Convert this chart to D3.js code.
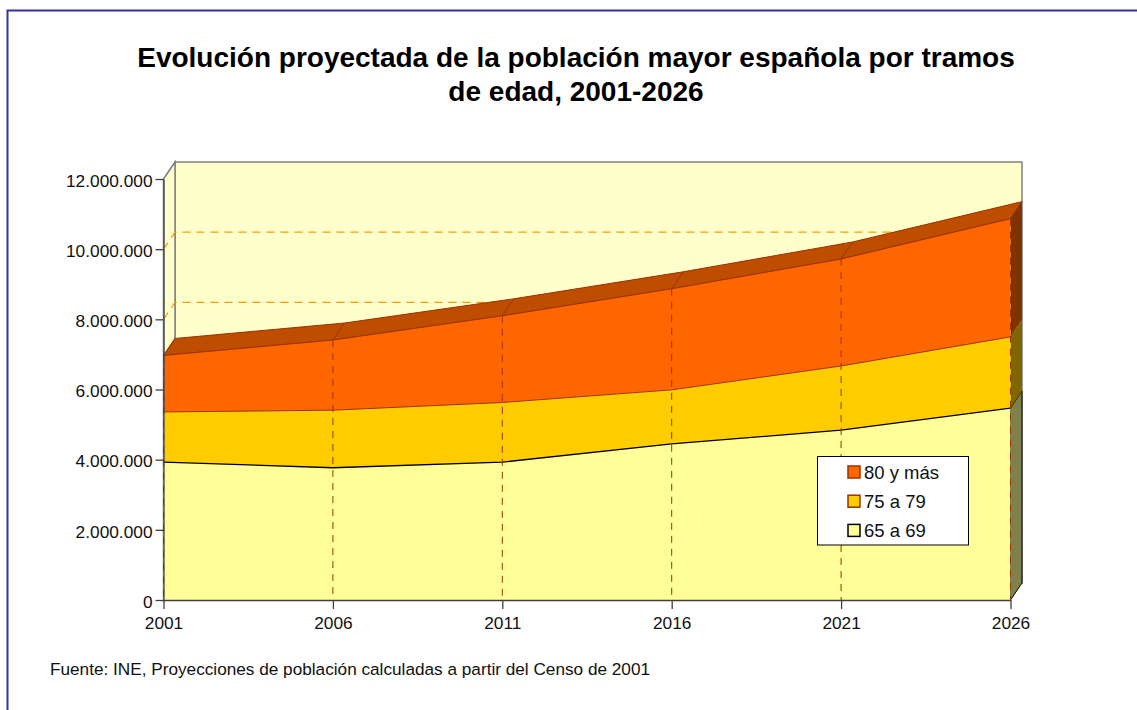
<!DOCTYPE html>
<html lang="es">
<head>
<meta charset="utf-8">
<title>Evolución proyectada de la población mayor española</title>
<script src="https://cdn.jsdelivr.net/npm/d3@7/dist/d3.min.js"></script>
<style>
    html, body { margin: 0; padding: 0; background: #fff; overflow: hidden; }
    text { font-family: "Liberation Sans", Arial, sans-serif; fill: #111; }
</style>
</head>
<body>
<div class="canvas"></div>
<script>
// DATA
const years = [2001, 2006, 2011, 2016, 2021, 2026];
const s65a69 = [3930000, 3770000, 3930000, 4450000, 4840000, 5470000];
const s75a79 = [1430000, 1640000, 1700000, 1540000, 1830000, 2030000];
const s80ymas = [1610000, 2000000, 2470000, 2880000, 3050000, 3370000];
const yTicks = [0, 2000000, 4000000, 6000000, 8000000, 10000000, 12000000];
const wallGrid = [8000000, 10000000];
const seriesNames = ['65 a 69', '75 a 79', '80 y más'];
const titleLines = [
    'Evolución proyectada de la población mayor española por tramos',
    'de edad, 2001-2026'
];
const sourceText = 'Fuente: INE, Proyecciones de población calculadas a partir del Censo de 2001';

// series styles, bottom to top
const fills = ['#ffff99', '#ffcc00', '#ff6600'];
const strokes = ['#000000', '#993300', '#993300'];
const sideFills = ['#80804d', '#806600', '#803300'];
const topFill = '#bf4d00';

// 3d offset of the back wall
const depthX = 11.5;
const depthY = -17;

const svg = d3.select('.canvas').append('svg')
    .attr('width', 1137)
    .attr('height', 710)
    .style('display', 'block');

// scales
const x = d3.scaleLinear().domain([2001, 2026]).range([163.5, 1010.5]);
const y = d3.scaleLinear().domain([0, 12000000]).range([600, 179]);

// outer frame, runs off the page at right and bottom
svg.append('path')
    .attr('d', 'M7.5,720V10.5H1150')
    .attr('fill', 'none')
    .attr('stroke', '#3333a0')
    .attr('stroke-width', 2);

// title
svg.append('g').selectAll('text')
    .data(titleLines)
    .join('text')
    .attr('x', 576)
    .attr('y', (d, i) => 67 + i * 34)
    .attr('text-anchor', 'middle')
    .style('font-size', '28px')
    .style('font-weight', 700)
    .style('fill', '#000')
    .text(d => d);

// WALLS
const x0 = x.range()[0];
const x1 = x.range()[1];
const walls = svg.append('g');
walls.append('rect')
    .attr('x', x0 + depthX)
    .attr('y', y(12000000) + depthY)
    .attr('width', x1 - x0)
    .attr('height', y(0) - y(12000000))
    .attr('fill', '#ffffcc')
    .attr('stroke', '#808080')
    .attr('stroke-width', 1.5);
walls.append('path')
    .attr('d', `M${x0},${y(12000000)}L${x0 + depthX},${y(12000000) + depthY}V${y(0) + depthY}L${x0},${y(0)}Z`)
    .attr('fill', '#ffffcc')
    .attr('stroke', '#808080')
    .attr('stroke-width', 1.5);

// dashed grid on the walls
walls.selectAll('path.grid')
    .data(wallGrid)
    .join('path')
    .attr('class', 'grid')
    .attr('d', d => `M${x0},${y(d)}L${x0 + depthX},${y(d) + depthY}H${x1 + depthX}`)
    .attr('fill', 'none')
    .attr('stroke', '#ff9900')
    .attr('stroke-width', 1.2)
    .attr('stroke-dasharray', '8,6');

// STACKED AREAS
const rows = years.map((year, i) => ({
    year: year,
    [seriesNames[0]]: s65a69[i],
    [seriesNames[1]]: s75a79[i],
    [seriesNames[2]]: s80ymas[i]
}));
const stacked = d3.stack().keys(seriesNames)(rows);

const area = d3.area()
    .x(d => x(d.data.year))
    .y0(d => y(d[0]))
    .y1(d => y(d[1]));
const topLine = d3.line()
    .x(d => x(d.data.year))
    .y(d => y(d[1]));

// top face of the upper series
const upper = stacked[2];
const topGroup = svg.append('g');
topGroup.append('path')
    .datum(upper)
    .attr('d', d3.area()
        .x0(d => x(d.data.year))
        .x1(d => x(d.data.year) + depthX)
        .y0(d => y(d[1]))
        .y1(d => y(d[1]) + depthY))
    .attr('fill', topFill)
    .attr('stroke', '#993300')
    .attr('stroke-width', 1);
topGroup.selectAll('line')
    .data(upper)
    .join('line')
    .attr('x1', d => x(d.data.year))
    .attr('y1', d => y(d[1]))
    .attr('x2', d => x(d.data.year) + depthX)
    .attr('y2', d => y(d[1]) + depthY)
    .attr('stroke', '#993300')
    .attr('stroke-width', 1);

// right side faces
const lastIdx = years.length - 1;
svg.append('g').selectAll('path')
    .data(stacked)
    .join('path')
    .attr('d', d => {
        const p = d[lastIdx];
        return `M${x1},${y(p[1])}L${x1 + depthX},${y(p[1]) + depthY}V${y(p[0]) + depthY}L${x1},${y(p[0])}Z`;
    })
    .attr('fill', (d, i) => sideFills[i])
    .attr('stroke', (d, i) => i === 0 ? '#000' : 'none')
    .attr('stroke-width', 1);

// front faces
svg.append('g').selectAll('path')
    .data(stacked)
    .join('path')
    .attr('d', area)
    .attr('fill', (d, i) => fills[i]);
svg.append('g').selectAll('path')
    .data(stacked)
    .join('path')
    .attr('d', topLine)
    .attr('fill', 'none')
    .attr('stroke', (d, i) => strokes[i])
    .attr('stroke-width', (d, i) => i === 0 ? 1.3 : 1);

// drop lines
svg.append('g').selectAll('line')
    .data(upper)
    .join('line')
    .attr('x1', d => x(d.data.year))
    .attr('x2', d => x(d.data.year))
    .attr('y1', d => y(d[1]))
    .attr('y2', y(0))
    .attr('stroke', '#993300')
    .attr('stroke-width', 1)
    .attr('stroke-dasharray', '7,6');

// AXES
const thousands = d3.formatLocale({ decimal: ',', thousands: '.', grouping: [3], currency: ['', '€'] }).format(',');

const yAxis = svg.append('g')
    .attr('transform', `translate(${x0},0)`)
    .call(d3.axisLeft(y).tickValues(yTicks).tickFormat(thousands).tickSize(8).tickSizeOuter(0).tickPadding(3));
const xAxis = svg.append('g')
    .attr('transform', `translate(0,${y(0)})`)
    .call(d3.axisBottom(x).tickValues(years).tickFormat(d => d).tickSize(9).tickSizeOuter(0).tickPadding(6));

[yAxis, xAxis].forEach(axis => {
    axis.selectAll('path, line').attr('stroke', '#404040').attr('stroke-width', 1.3);
    axis.selectAll('text')
        .style('font-size', '17.3px')
        .style('font-family', '"Liberation Sans", Arial, sans-serif')
        .style('fill', '#111');
});
yAxis.selectAll('text').attr('dy', '0.42em');
xAxis.selectAll('text').attr('dy', '0.8em');

// LEGEND
const legend = svg.append('g').attr('transform', 'translate(817.5,456.5)');
legend.append('rect')
    .attr('width', 151)
    .attr('height', 88.5)
    .attr('fill', '#fff')
    .attr('stroke', '#000')
    .attr('stroke-width', 1);

const legendRows = legend.selectAll('g')
    .data(seriesNames.slice().reverse())
    .join('g')
    .attr('transform', (d, i) => `translate(0,${15.5 + i * 29.2})`);
legendRows.append('rect')
    .attr('x', 30.5)
    .attr('y', -6)
    .attr('width', 12)
    .attr('height', 12)
    .attr('fill', (d, i) => fills[2 - i])
    .attr('stroke', (d, i) => strokes[2 - i])
    .attr('stroke-width', 1.5);
legendRows.append('text')
    .attr('x', 46.5)
    .attr('y', 6.5)
    .style('font-size', '18.5px')
    .text(d => d);

// source note
svg.append('text')
    .attr('x', 50)
    .attr('y', 675)
    .style('font-size', '17.2px')
    .text(sourceText);
</script>
</body>
</html>
